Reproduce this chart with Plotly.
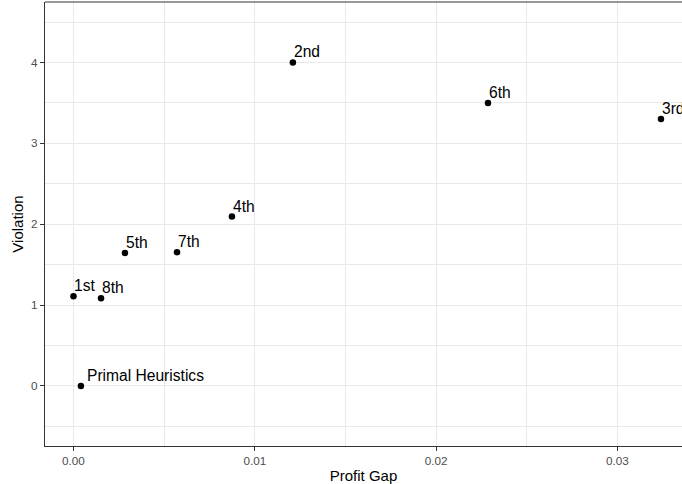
import plotly.graph_objects as go

labels = ["Primal Heuristics", "1st", "8th", "5th", "7th", "4th", "2nd", "6th", "3rd"]
profit_gap = [0.00041, 0.0000, 0.00152, 0.00284, 0.00571, 0.00874, 0.0121, 0.02286, 0.0324]
violation = [0.0, 1.11, 1.085, 1.645, 1.655, 2.095, 4.0, 3.5, 3.3]

x_ticks = [0.00, 0.01, 0.02, 0.03]
x_tick_text = ["0.00", "0.01", "0.02", "0.03"]
y_ticks = [0, 1, 2, 3, 4]

fig = go.Figure()
fig.add_trace(go.Scatter(
    x=profit_gap, y=violation, mode="markers",
    marker=dict(color="black", size=6.5),
    hoverinfo="skip", showlegend=False, cliponaxis=False,
))

for lab, xv, yv in zip(labels, profit_gap, violation):
    fig.add_annotation(
        x=xv, y=yv, text=lab, showarrow=False,
        xanchor="left", yanchor="bottom",
        xshift=4 if lab == "Primal Heuristics" else -1, yshift=0,
        font=dict(family="Liberation Sans, Arial", size=15.6, color="black"),
    )

grid = "#E9E9E9"
fig.update_layout(
    width=682, height=484,
    margin=dict(l=45, r=0, t=2, b=38, autoexpand=False),
    paper_bgcolor="white", plot_bgcolor="white",
    font=dict(family="Liberation Sans, Arial", color="#4D4D4D"),
    xaxis=dict(
        range=[-0.00157, 0.03356], tickvals=x_ticks, ticktext=x_tick_text,
        automargin=False,
        showgrid=True, gridcolor=grid, gridwidth=1.2,
        minor=dict(dtick=0.005, tick0=0, showgrid=True, gridcolor=grid, gridwidth=0.6),
        zeroline=False, showline=True, linecolor="#333333", linewidth=1.1,
        ticks="outside", ticklen=4, tickcolor="#333333", tickwidth=1.1,
        tickfont=dict(size=11.7, color="#4D4D4D"),
        title=dict(text="Profit Gap", font=dict(size=15, color="black"), standoff=4),
    ),
    yaxis=dict(
        range=[-0.742, 4.748], tickvals=y_ticks,
        automargin=False,
        showgrid=True, gridcolor=grid, gridwidth=1.2,
        minor=dict(dtick=0.5, tick0=0, showgrid=True, gridcolor=grid, gridwidth=0.6),
        zeroline=False, showline=True, linecolor="#333333", linewidth=1.1,
        ticks="outside", ticklen=4, tickcolor="#333333", tickwidth=1.1,
        tickfont=dict(size=11.7, color="#4D4D4D"),
        title=dict(text="Violation", font=dict(size=15, color="black"), standoff=3),
    ),
    shapes=[dict(type="line", xref="paper", yref="paper", x0=0, x1=1, y0=1, y1=1,
                 line=dict(color="#333333", width=1.1))],
)

fig.write_html("out.html", config={"displayModeBar": False},
               post_script="document.body.style.margin='0';document.body.style.overflow='hidden';")
